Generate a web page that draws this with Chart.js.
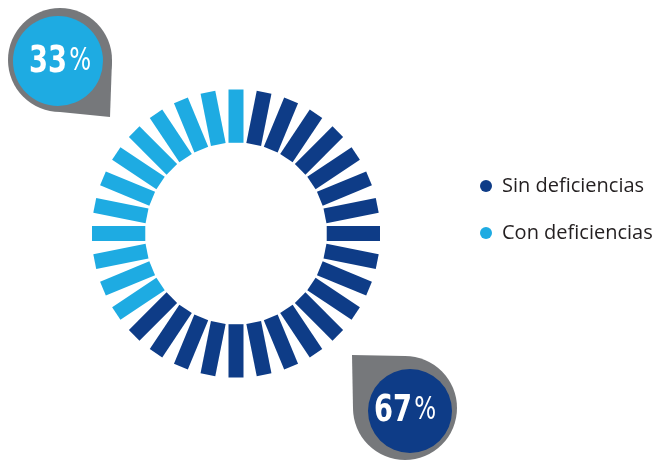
<!DOCTYPE html>
<html>
<head>
<meta charset="utf-8">
<script src="https://cdn.jsdelivr.net/npm/chart.js@4.4.1/dist/chart.umd.min.js"></script>
<style>
  html, body { margin: 0; padding: 0; background: #fff; }
  #wrap { position: relative; width: 657px; height: 461px; }
  #legend { position: absolute; left: 479px; top: 170px; font-family: "Open Sans", sans-serif; font-size: 20px; color: #231f20; }
  #legend .item { position: relative; height: 47px; padding-left: 23px; line-height: 30px; }
  #legend .dot { position: absolute; left: 1px; top: 10px; width: 12px; height: 12px; border-radius: 50%; }
</style>
</head>
<body>
<div id="wrap">
  <canvas id="myChart" width="657" height="461"></canvas>
  <div id="legend"></div>
</div>
<script>
// categories and values
var categories = ['Sin deficiencias', 'Con deficiencias']
var percents = [67, 33]
// the ring is drawn as 32 ticks: 20 dark, 12 light
var segmentCounts = [20, 12]
var colors = ['#0e3c87', '#1eabe2']

var sliceData = []
var sliceLabels = []
var sliceColors = []
categories.forEach(function (cat, i) {
  for (var k = 0; k < segmentCounts[i]; k++) {
    sliceData.push(1)
    sliceLabels.push(cat)
    sliceColors.push(colors[i])
  }
})

// draw each arc as a straight bar, using the arc geometry from Chart.js
var ringBars = {
  id: 'ringBars',
  beforeDatasetDraw: function (chart, args) {
    var ctx = chart.ctx
    args.meta.data.forEach(function (el) {
      var p = el.getProps(['x', 'y', 'startAngle', 'endAngle', 'innerRadius', 'outerRadius'], true)
      var mid = (p.startAngle + p.endAngle) / 2
      ctx.save()
      ctx.translate(p.x, p.y)
      ctx.rotate(mid)
      ctx.fillStyle = el.options.backgroundColor
      ctx.fillRect(p.innerRadius, -7.5, p.outerRadius - p.innerRadius, 15)
      ctx.restore()
    })
    return false
  }
}

// the two percentage pins
var pins = [
  { idx: 1, cx: 60, cy: 60, r: 52, tip: [110, 117], a: [112, 60], b: [60, 112], bx: 58, by: 61, br: 45, tx: 60, ty: 62 },
  { idx: 0, cx: 405, cy: 408, r: 52, tip: [352, 355], a: [353, 408], b: [405, 356], bx: 410, by: 411, br: 42, tx: 405, ty: 411 }
]
var pinPlugin = {
  id: 'pins',
  afterDraw: function (chart) {
    var ctx = chart.ctx
    pins.forEach(function (pin) {
      ctx.save()
      ctx.fillStyle = '#76787b'
      ctx.beginPath()
      ctx.arc(pin.cx, pin.cy, pin.r, 0, Math.PI * 2)
      ctx.fill()
      ctx.beginPath()
      ctx.moveTo(pin.a[0], pin.a[1])
      ctx.lineTo(pin.tip[0], pin.tip[1])
      ctx.lineTo(pin.b[0], pin.b[1])
      ctx.lineTo(pin.cx, pin.cy)
      ctx.closePath()
      ctx.fill()
      ctx.fillStyle = colors[pin.idx]
      ctx.beginPath()
      ctx.arc(pin.bx, pin.by, pin.br, 0, Math.PI * 2)
      ctx.fill()

      // heavy narrow digits, thin percent sign
      var num = String(percents[pin.idx])
      var numFont = 'bold 38px "DejaVu Sans", sans-serif'
      var pctFont = '32px "DejaVu Sans", sans-serif'
      var sx = 0.72
      ctx.font = numFont
      var w1 = ctx.measureText(num).width
      ctx.font = pctFont
      var w2 = ctx.measureText('%').width
      var total = (w1 + 3 + w2) * sx
      ctx.translate(pin.tx - total / 2, pin.ty)
      ctx.scale(sx, 1)
      ctx.fillStyle = '#ffffff'
      ctx.textBaseline = 'middle'
      ctx.textAlign = 'left'
      ctx.font = numFont
      ctx.fillText(num, 0, 0)
      ctx.font = pctFont
      ctx.fillText('%', w1 + 3, 0)
      ctx.restore()
    })
  }
}

var chart = new Chart(document.getElementById('myChart').getContext('2d'), {
  type: 'doughnut',
  data: {
    labels: sliceLabels,
    datasets: [{
      data: sliceData,
      backgroundColor: sliceColors,
      borderWidth: 0
    }]
  },
  options: {
    responsive: false,
    animation: false,
    cutout: '63%',
    rotation: 5.625,
    layout: { padding: { left: 92, right: 277, top: 89, bottom: 83 } },
    plugins: {
      legend: { display: false },
      tooltip: { enabled: false }
    }
  },
  plugins: [ringBars, pinPlugin]
})

var html = ''
categories.forEach(function (cat, i) {
  html += '<div class="item"><span class="dot" style="background:' + colors[i] + '"></span>' + cat + '</div>'
})
document.getElementById('legend').innerHTML = html
</script>
</body>
</html>
